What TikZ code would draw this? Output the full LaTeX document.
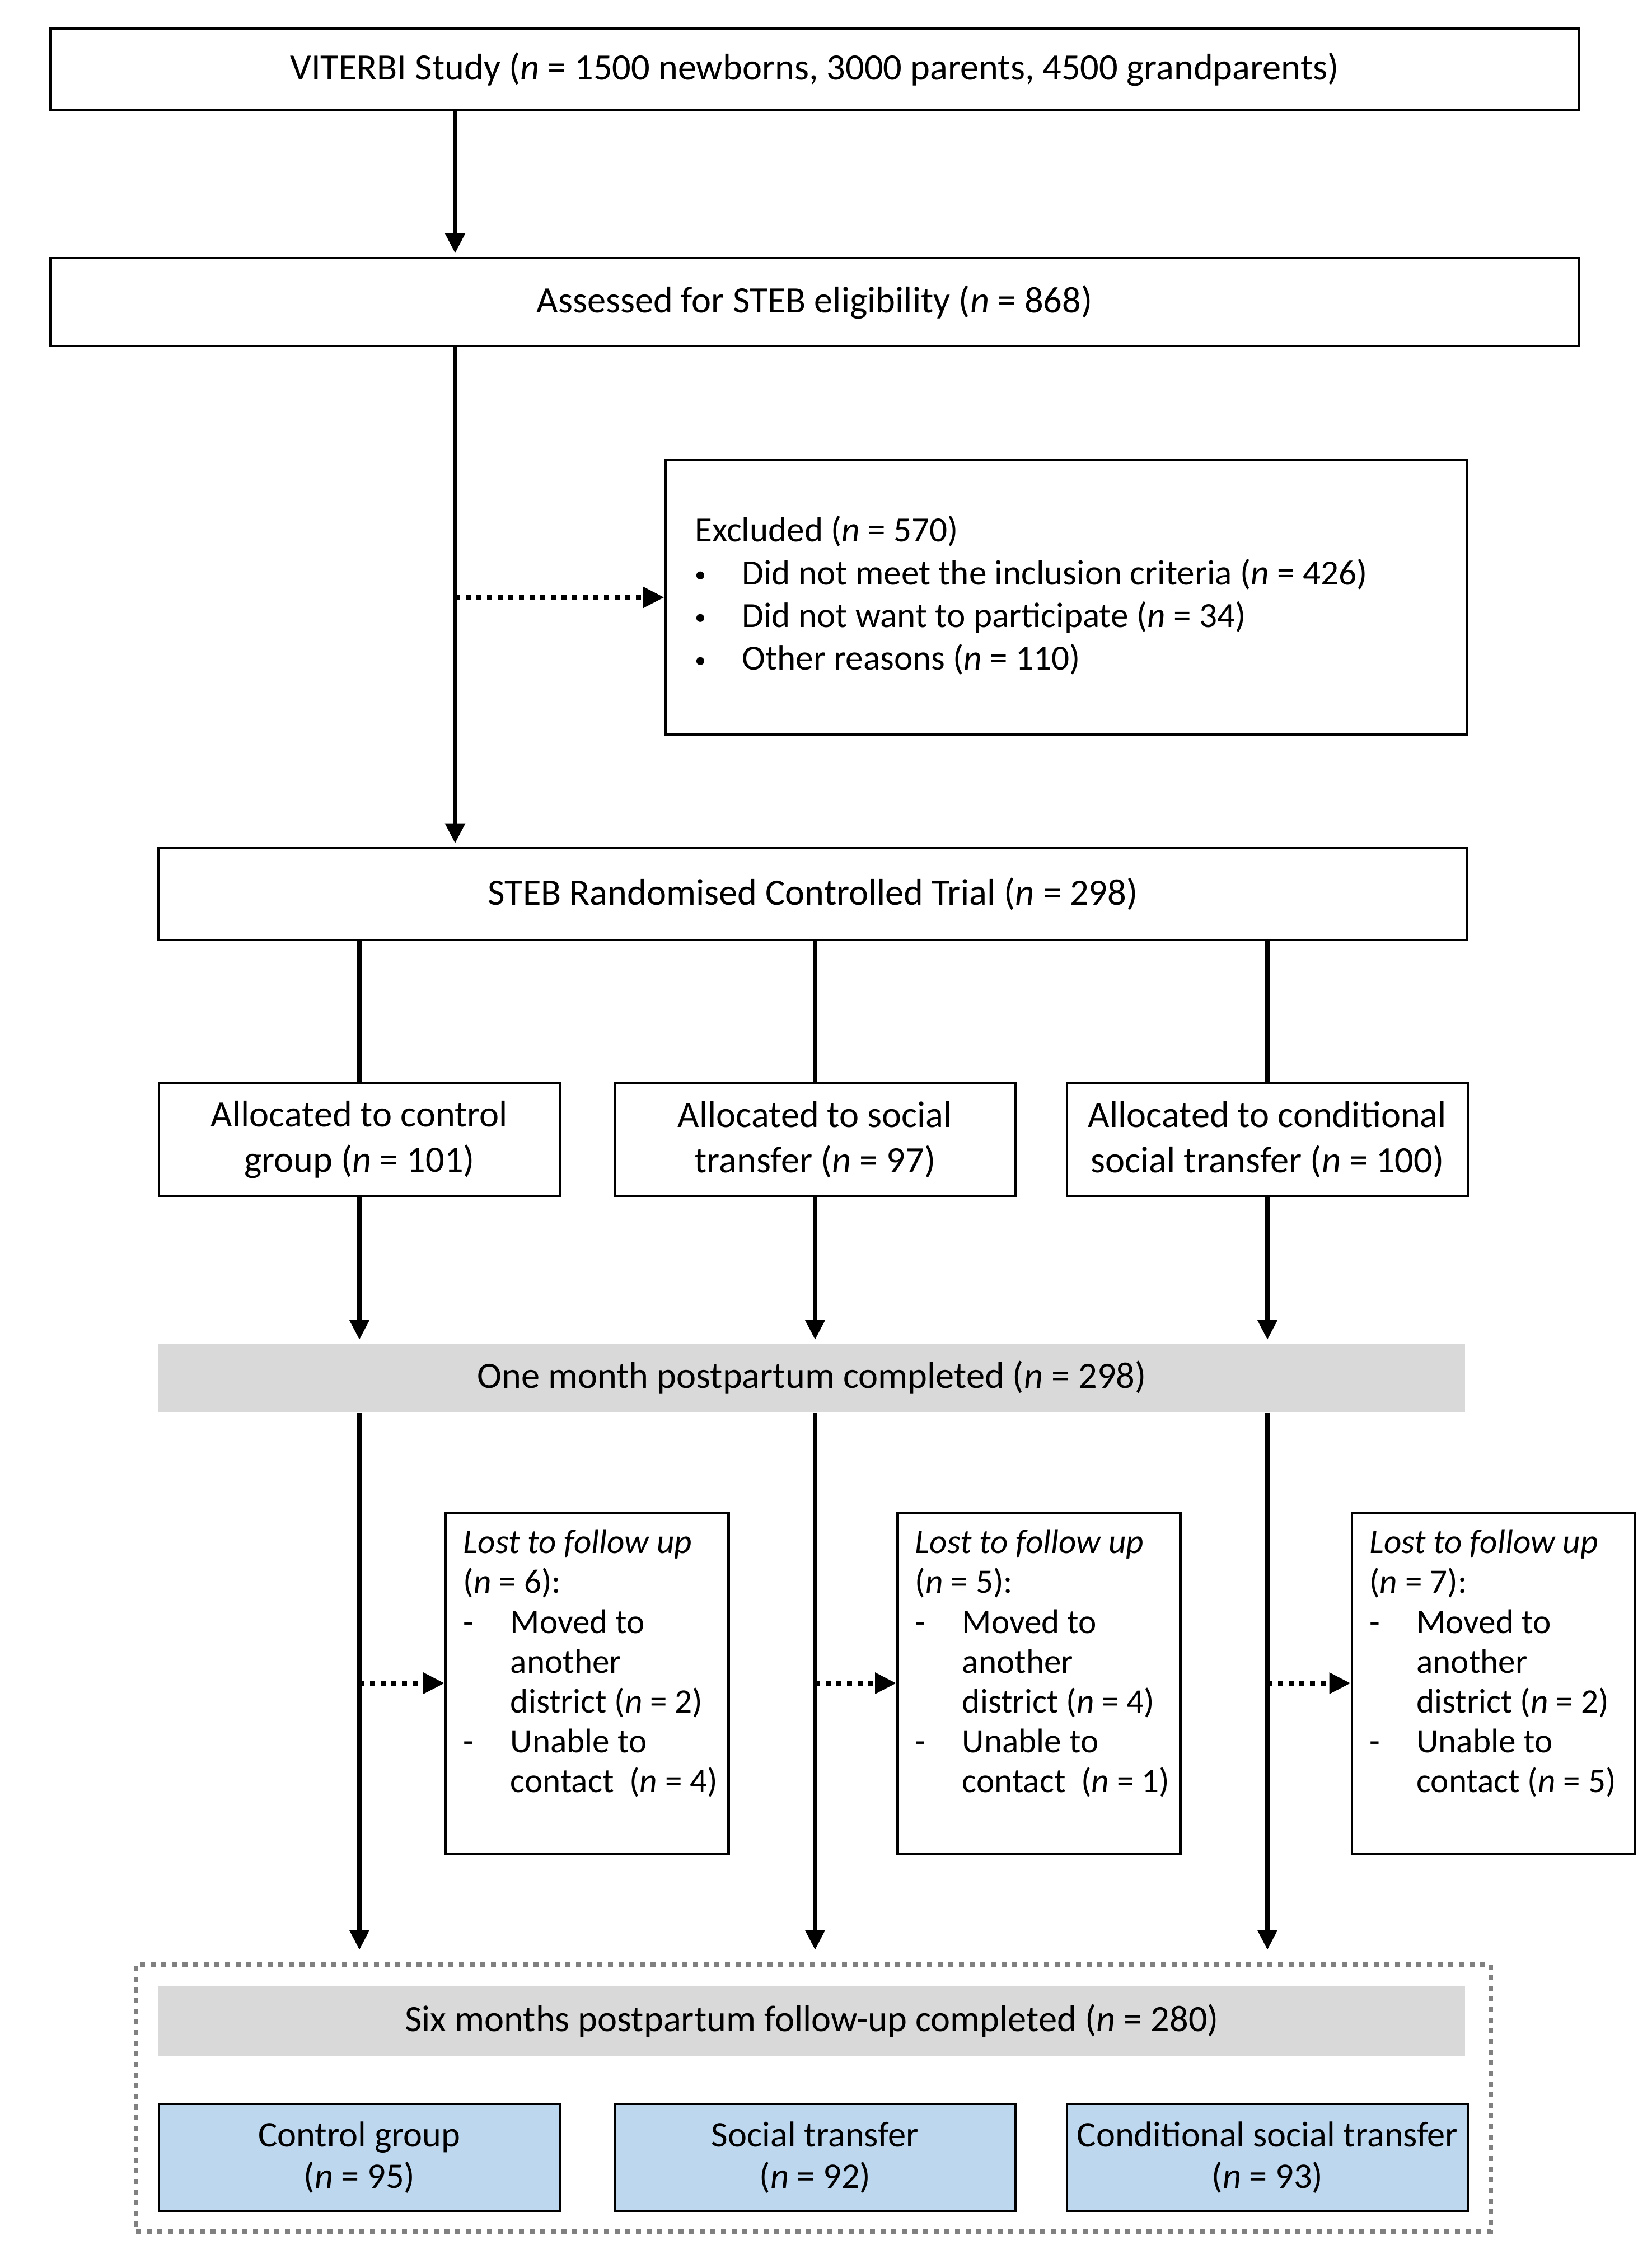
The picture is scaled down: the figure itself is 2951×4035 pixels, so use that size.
\documentclass[tikz,border=0pt]{standalone}
\usepackage{fontspec}
\setmainfont{Carlito}
\usetikzlibrary{arrows.meta}
\definecolor{barGrey}{HTML}{D9D9D9}
\definecolor{boxBlue}{HTML}{BDD7EE}
\definecolor{frameGrey}{HTML}{808080}
\newcommand{\nn}{\textit{n}}
\newcommand{\smallbul}{\raisebox{1.2pt}{\fontsize{10}{10}\selectfont\textbullet}}
\begin{document}
\begin{tikzpicture}[x=0.25pt,y=-0.25pt,
  txt/.style={font=\fontsize{16.6}{20.3}\selectfont, inner sep=0pt, align=center},
  boxed/.style={txt, draw=black, line width=1.2pt, fill=white},
  bar/.style={txt, fill=barGrey},
  bluebox/.style={draw=black, line width=1.2pt, fill=boxBlue, inner sep=0pt, align=center, font=\fontsize{16.1}{18.7}\selectfont},
  conn/.style={line width=2.2pt},
  arr/.style={conn, -{Triangle[length=9pt,width=8.5pt]}, shorten >=1.5pt},
  dotarr/.style={line width=2.2pt, dash pattern=on 2.25pt off 2.5pt, -{Triangle[length=9.5pt,width=9pt]}},
  framebox/.style={draw=frameGrey, line width=2.2pt, dash pattern=on 2.25pt off 2.5pt, inner sep=0pt},
  exctxt/.style={font=\fontsize{15.8}{19.1}\selectfont, inner sep=0pt, align=left},
  losttxt/.style={font=\fontsize{15.3}{17.8}\selectfont, inner sep=0pt, align=left},
  lostbox/.style={draw=black, line width=1.2pt, fill=white, inner sep=0pt, minimum width=126.25pt, minimum height=152.25pt},
]
\useasboundingbox (0,0) rectangle (2951,4035);

% coordinates for columns
\coordinate (mx) at (813,0);

% top boxes
\node[boxed, minimum width=682.5pt, minimum height=36.25pt] (box1) at (1455,123.5)
  {VITERBI Study (\nn{} = 1500 newborns, 3000 parents, 4500 grandparents)};
\node[boxed, minimum width=682.5pt, minimum height=39.25pt] (box2) at (1455,539.5)
  {Assessed for STEB eligibility (\nn{} = 868)};

% excluded
\node[draw=black, line width=1.2pt, fill=white, inner sep=0pt, minimum width=358pt, minimum height=122.5pt] (excl) at (1905,1067) {};
\node[exctxt, anchor=west] (excltxt) at ([shift={(54,0)}]excl.west)
  {\begin{tabular}{@{}p{21pt}@{}l@{}}
   \multicolumn{2}{@{}l@{}}{Excluded (\nn{} = 570)}\\
   \smallbul & Did not meet the inclusion criteria (\nn{} = 426)\\
   \smallbul & Did not want to participate (\nn{} = 34)\\
   \smallbul & Other reasons (\nn{} = 110)
   \end{tabular}};

% RCT
\node[boxed, minimum width=584.5pt, minimum height=41pt] (box3) at (1452,1597)
  {STEB Randomised Controlled Trial (\nn{} = 298)};

% allocation
\node[boxed, minimum width=179pt, minimum height=50.25pt] (a1) at (642,2035.5)
  {Allocated to control\\group (\nn{} = 101)};
\node[boxed, minimum width=179pt, minimum height=50.25pt] (a2) at (1456,2035.5)
  {Allocated to social\\transfer (\nn{} = 97)};
\node[boxed, minimum width=179pt, minimum height=50.25pt] (a3) at (2264,2035.5)
  {Allocated to conditional\\social transfer (\nn{} = 100)};

% one month bar
\node[bar, minimum width=583.5pt, minimum height=30.5pt] (bar1) at (1450,2461)
  {One month postpartum completed (\nn{} = 298)};

% lost boxes
\node[lostbox] (lost1) at (1049,3006.5) {};
\node[lostbox] (lost2) at (1856,3006.5) {};
\node[lostbox] (lost3) at (2667.5,3006.5) {};

\node[losttxt, anchor=base west] (lt1) at ([shift={(33,75)}]lost1.north west)
  {\begin{tabular}[t]{@{}p{21pt}@{}l@{}}
   \multicolumn{2}{@{}l@{}}{\textit{Lost to follow up}}\\
   \multicolumn{2}{@{}l@{}}{(\nn{} = 6):}\\
   - & Moved to\\
     & another\\
     & district (\nn{} = 2)\\
   - & Unable to\\
     & contact\ \ (\nn{} = 4)
   \end{tabular}};
\node[losttxt, anchor=base west] (lt2) at ([shift={(33,75)}]lost2.north west)
  {\begin{tabular}[t]{@{}p{21pt}@{}l@{}}
   \multicolumn{2}{@{}l@{}}{\textit{Lost to follow up}}\\
   \multicolumn{2}{@{}l@{}}{(\nn{} = 5):}\\
   - & Moved to\\
     & another\\
     & district (\nn{} = 4)\\
   - & Unable to\\
     & contact\ \ (\nn{} = 1)
   \end{tabular}};
\node[losttxt, anchor=base west] (lt3) at ([shift={(33,75)}]lost3.north west)
  {\begin{tabular}[t]{@{}p{21pt}@{}l@{}}
   \multicolumn{2}{@{}l@{}}{\textit{Lost to follow up}}\\
   \multicolumn{2}{@{}l@{}}{(\nn{} = 7):}\\
   - & Moved to\\
     & another\\
     & district (\nn{} = 2)\\
   - & Unable to\\
     & contact (\nn{} = 5)
   \end{tabular}};

% frame and final
\node[framebox, minimum width=605pt, minimum height=119.25pt] (frame) at (1453,3747.5) {};
\node[bar, minimum width=583.5pt, minimum height=31.5pt] (bar2) at (1450,3610)
  {Six months postpartum follow-up completed (\nn{} = 280)};
\node[bluebox, minimum width=179pt, minimum height=47.75pt] (b1) at (642,3853.5)
  {Control group\\(\nn{} = 95)};
\node[bluebox, minimum width=179pt, minimum height=47.75pt] (b2) at (1456,3853.5)
  {Social transfer\\(\nn{} = 92)};
\node[bluebox, minimum width=179pt, minimum height=47.75pt] (b3) at (2264,3853.5)
  {Conditional social transfer\\(\nn{} = 93)};

% end points above frame
\coordinate (e1) at (642,3489);
\coordinate (e2) at (1456,3489);
\coordinate (e3) at (2264,3489);

% connectors
\draw[arr] (box1.south -| mx) -- (box2.north -| mx);
\draw[arr] (box2.south -| mx) -- (box3.north -| mx);
\draw[dotarr] (excl.west -| mx) -- (excl.west);

\draw[conn] (box3.south -| a1) -- (a1.north);
\draw[conn] (box3.south -| a2) -- (a2.north);
\draw[conn] (box3.south -| a3) -- (a3.north);

\draw[arr] (a1.south) -- (bar1.north -| a1);
\draw[arr] (a2.south) -- (bar1.north -| a2);
\draw[arr] (a3.south) -- (bar1.north -| a3);

\draw[arr] (bar1.south -| a1) -- (e1);
\draw[arr] (bar1.south -| a2) -- (e2);
\draw[arr] (bar1.south -| a3) -- (e3);

\draw[dotarr] (lost1.west -| a1) -- (lost1.west);
\draw[dotarr] (lost2.west -| a2) -- (lost2.west);
\draw[dotarr] (lost3.west -| a3) -- (lost3.west);
\end{tikzpicture}
\end{document}
